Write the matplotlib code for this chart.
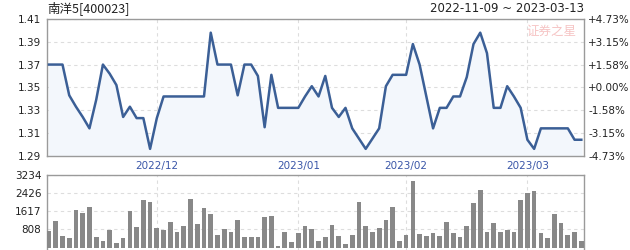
import numpy as np
import matplotlib

matplotlib.use("Agg")

import matplotlib.pyplot as plt


plt.rcParams["font.family"] = ["DejaVu Sans", "Noto Sans CJK SC"]

TITLE = "南洋5[400023]"
DATE_RANGE = "2022-11-09 ~ 2023-03-13"

# trading days per month shown on the chart
MONTH_LABELS = ["2022/11", "2022/12", "2023/01", "2023/02", "2023/03"]
DAYS_PER_MONTH = [16, 21, 16, 18, 9]

PRICES = [
    1.370, 1.370, 1.370, 1.343, 1.333, 1.324, 1.314, 1.339, 1.370, 1.362,
    1.352, 1.324, 1.333, 1.323, 1.323, 1.296, 1.323, 1.342, 1.342, 1.342,
    1.342, 1.342, 1.342, 1.342, 1.398, 1.370, 1.370, 1.370, 1.343, 1.370,
    1.370, 1.360, 1.315, 1.361, 1.332, 1.332, 1.332, 1.332, 1.342, 1.351,
    1.342, 1.360, 1.332, 1.324, 1.332, 1.314, 1.305, 1.296, 1.305, 1.314,
    1.351, 1.361, 1.361, 1.361, 1.388, 1.370, 1.342, 1.314, 1.332, 1.332,
    1.342, 1.342, 1.359, 1.388, 1.398, 1.380, 1.332, 1.332, 1.351, 1.342,
    1.332, 1.304, 1.296, 1.314, 1.314, 1.314, 1.314, 1.314, 1.304, 1.304,
]

VOLUMES = [
    733, 1177, 511, 422, 1651, 1533, 1799, 467, 289, 778,
    200, 422, 1622, 911, 2110, 2022, 866, 778, 1133, 689,
    955, 2155, 1044, 1755, 1488, 555, 822, 689, 1222, 467,
    467, 467, 1355, 1400, 67, 689, 244, 644, 955, 822,
    289, 467, 1000, 511, 156, 555, 2022, 955, 689, 866,
    1222, 1799, 289, 555, 2955, 600, 511, 644, 511, 1133,
    644, 467, 955, 1977, 2555, 689, 1089, 689, 778, 689,
    2110, 2421, 2510, 644, 422, 1488, 1089, 555, 689, 289,
]

PRICE_TICKS = [1.29, 1.31, 1.33, 1.35, 1.37, 1.39, 1.41]
PCT_LABELS = ["-4.73%", "-3.15%", "-1.58%", "+0.00%", "+1.58%", "+3.15%", "+4.73%"]
VOLUME_TICKS = [808, 1617, 2426, 3234]

LINE_COLOR = "#3b5f96"
GRID_COLOR = "#dddddd"
SPINE_COLOR = "#9a9a9a"
TEXT_COLOR = "#222222"
MONTH_COLOR = "#3a56a8"


def style_axes(ax):

    for spine in ax.spines.values():
        spine.set_color(SPINE_COLOR)
        spine.set_linewidth(1.0)
    ax.tick_params(length=0, labelsize=7.5, colors=TEXT_COLOR)
    ax.grid(True, color=GRID_COLOR, linestyle=(0, (3, 3)), linewidth=0.8)
    ax.set_axisbelow(True)


def main():

    x = np.arange(len(PRICES))
    month_starts = np.cumsum([0] + DAYS_PER_MONTH[:-1])[1:]
    month_names = MONTH_LABELS[1:]

    fig = plt.figure(figsize=(6.3, 2.5), dpi=100)

    ax = fig.add_axes([47 / 630, 1 - 155.7 / 250, 537 / 630, 136.7 / 250])
    ax.fill_between(x, PRICES, 1.29, color="#f3f7fc", zorder=1)
    ax.plot(x, PRICES, color=LINE_COLOR, linewidth=1.8, zorder=3)
    ax.set_xlim(-0.3, 79.4)
    ax.set_ylim(1.29, 1.41)
    ax.set_yticks(PRICE_TICKS)
    ax.set_yticklabels([f"{t:.2f}" for t in PRICE_TICKS])
    ax.set_xticks(month_starts)
    ax.set_xticklabels(month_names, color=MONTH_COLOR)
    style_axes(ax)
    ax.tick_params(axis="x", colors=MONTH_COLOR, pad=4)
    ax.tick_params(axis="y", pad=4)

    pct = ax.twinx()
    pct.set_ylim(1.29, 1.41)
    pct.set_yticks(PRICE_TICKS)
    pct.set_yticklabels(PCT_LABELS)
    pct.tick_params(length=0, labelsize=7.5, colors=TEXT_COLOR, pad=3)
    for spine in pct.spines.values():
        spine.set_visible(False)

    ax.text(0.0, 1.03, TITLE, transform=ax.transAxes, fontsize=9,
            family=["Noto Sans CJK SC", "DejaVu Sans"], color=TEXT_COLOR,
            ha="left", va="bottom")
    ax.text(1.0, 1.03, DATE_RANGE, transform=ax.transAxes, fontsize=8.5,
            color=TEXT_COLOR, ha="right", va="bottom")
    ax.text(0.985, 0.91, "证券之星", transform=ax.transAxes, fontsize=9,
            family=["Noto Sans CJK SC"], color="#f6c4c4", ha="right",
            va="center", style="italic", zorder=2)

    vax = fig.add_axes([47 / 630, 0, 537 / 630, 75.3 / 250])
    vax.bar(x, VOLUMES, width=0.7, color="#888888", zorder=3)
    vax.set_xlim(-0.3, 79.4)
    vax.set_ylim(-111, 3234)
    vax.set_yticks(VOLUME_TICKS)
    vax.set_xticks(month_starts)
    vax.set_xticklabels([])
    style_axes(vax)
    vax.spines["bottom"].set_visible(False)
    vax.tick_params(axis="y", pad=4)

    fig.savefig("out.png", dpi=100)
    plt.close(fig)


if __name__ == "__main__":
    main()
